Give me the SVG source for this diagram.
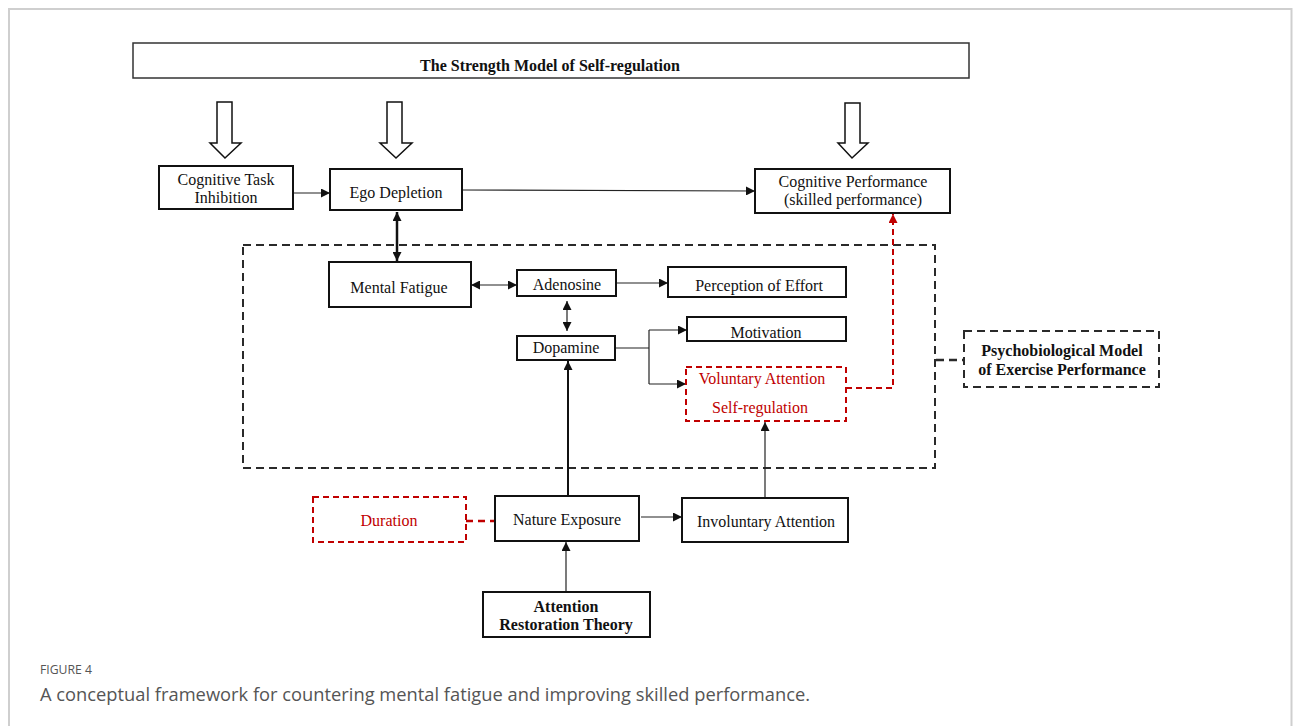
<svg xmlns="http://www.w3.org/2000/svg" width="1293" height="726" viewBox="0 0 1293 726">
<style>
.box{fill:#fff;stroke:#111;stroke-width:2}
.t{font-family:"Liberation Serif","Times New Roman",serif;font-size:16px;fill:#111;text-anchor:middle}
.b{font-weight:bold}
.red{fill:#c00000}
.rbox{fill:#fff;stroke:#c00000;stroke-width:2;stroke-dasharray:6 4}
.conn{fill:none;stroke:#222;stroke-width:1.2}
.blk{fill:#fff;stroke:#111;stroke-width:1.5}
.dash{fill:none;stroke:#2a2a2a;stroke-width:2;stroke-dasharray:8 5}
.cap{font-family:"Open Sans","Liberation Sans",sans-serif;fill:#555}
</style>
<defs>
<marker id="ah" viewBox="0 0 10 10" refX="10" refY="5" markerWidth="9" markerHeight="9" markerUnits="userSpaceOnUse" orient="auto-start-reverse"><path d="M0,0 L10,5 L0,10 z" fill="#111"/></marker>
<marker id="ahr" viewBox="0 0 10 10" refX="10" refY="5" markerWidth="9" markerHeight="9" markerUnits="userSpaceOnUse" orient="auto-start-reverse"><path d="M0,0 L10,5 L0,10 z" fill="#c00000"/></marker>
</defs>
<rect width="1293" height="726" fill="#fff"/>
<path d="M9,726 V9 H1291.5 V726" fill="none" stroke="#cfcfcf" stroke-width="2"/>

<g id="outer-dashed">
<rect x="243" y="245" width="692" height="223" class="dash"/>
</g>

<g id="connectors">
<polygon class="blk" points="217,102 232,102 232,143 241,143 225,158 210,143 217,143"/>
<polygon class="blk" points="387,102 402,102 402,143 412,143 396,158 380,143 387,143"/>
<polygon class="blk" points="845,103 860,103 860,143 868,143 852,158 838,143 845,143"/>
<path class="conn" d="M293,193 H330" marker-end="url(#ah)"/>
<path class="conn" d="M462,190 L755,191" marker-end="url(#ah)"/>
<path d="M397,212 V261" fill="none" stroke="#111" stroke-width="2.5" marker-start="url(#ah)" marker-end="url(#ah)"/>
<path class="conn" d="M471,285 H517" marker-start="url(#ah)" marker-end="url(#ah)"/>
<path class="conn" d="M616,283 H668" marker-end="url(#ah)"/>
<path class="conn" d="M567,301 V331" marker-start="url(#ah)" marker-end="url(#ah)"/>
<path class="conn" d="M615,348 H649"/>
<path class="conn" d="M649,330 V384"/>
<path class="conn" d="M649,330 H687" marker-end="url(#ah)"/>
<path class="conn" d="M649,384 H686" marker-end="url(#ah)"/>
<path d="M846,388 H893 V214" fill="none" stroke="#c00000" stroke-width="2" stroke-dasharray="6 4" marker-end="url(#ahr)"/>
<path d="M568,496 V361" fill="none" stroke="#111" stroke-width="2" marker-end="url(#ah)"/>
<path class="conn" d="M765,498 V422" marker-end="url(#ah)"/>
<path class="conn" d="M641,517 H682" marker-end="url(#ah)"/>
<path class="conn" d="M566,591 V542" marker-end="url(#ah)"/>
<path d="M466,521 H495" fill="none" stroke="#c00000" stroke-width="2.5" stroke-dasharray="7 5"/>
<path d="M936,360 H964" fill="none" stroke="#2a2a2a" stroke-width="2.5" stroke-dasharray="8 5"/>
</g>

<g id="strength-model">
<rect x="133" y="43" width="836" height="35" fill="#fff" stroke="#333" stroke-width="1.5"/>
<text class="t b" x="550" y="71" font-size="15.5">The Strength Model of Self-regulation</text>
</g>
<g id="cognitive-task-inhibition">
<rect class="box" x="159" y="166" width="134" height="43"/>
<text class="t" x="226" y="185">Cognitive Task</text>
<text class="t" x="226" y="203">Inhibition</text>
</g>
<g id="ego-depletion">
<rect class="box" x="330" y="169" width="132" height="41"/>
<text class="t" x="396" y="198">Ego Depletion</text>
</g>
<g id="cognitive-performance">
<rect class="box" x="755" y="169" width="195" height="44"/>
<text class="t" x="853" y="187">Cognitive Performance</text>
<text class="t" x="853" y="205">(skilled performance)</text>
</g>
<g id="mental-fatigue">
<rect class="box" x="329" y="262" width="142" height="45"/>
<text class="t" x="399" y="293">Mental Fatigue</text>
</g>
<g id="adenosine">
<rect class="box" x="517" y="270" width="99" height="26"/>
<text class="t" x="567" y="290">Adenosine</text>
</g>
<g id="perception-of-effort">
<rect class="box" x="668" y="267" width="178" height="30"/>
<text class="t" x="759" y="291">Perception of Effort</text>
</g>
<g id="dopamine">
<rect class="box" x="517" y="336" width="98" height="24"/>
<text class="t" x="566" y="353">Dopamine</text>
</g>
<g id="motivation">
<rect class="box" x="687" y="317" width="159" height="24"/>
<text class="t" x="766" y="338">Motivation</text>
</g>
<g id="voluntary-attention">
<rect class="rbox" x="686" y="367" width="160" height="54"/>
<text class="t red" x="762" y="384">Voluntary Attention</text>
<text class="t red" x="760" y="413">Self-regulation</text>
</g>
<g id="psychobiological-model">
<rect x="964" y="331" width="195" height="56" fill="#fff" stroke="#2a2a2a" stroke-width="2" stroke-dasharray="8 5"/>
<text class="t b" x="1062" y="356">Psychobiological Model</text>
<text class="t b" x="1062" y="375">of Exercise Performance</text>
</g>
<g id="duration">
<rect class="rbox" x="313" y="497" width="153" height="45"/>
<text class="t red" x="389" y="526">Duration</text>
</g>
<g id="nature-exposure">
<rect class="box" x="495" y="496" width="144" height="45"/>
<text class="t" x="567" y="525">Nature Exposure</text>
</g>
<g id="involuntary-attention">
<rect class="box" x="682" y="498" width="166" height="44"/>
<text class="t" x="766" y="527">Involuntary Attention</text>
</g>
<g id="attention-restoration-theory">
<rect class="box" x="483" y="592" width="167" height="45"/>
<text class="t b" x="566" y="612">Attention</text>
<text class="t b" x="566" y="630">Restoration Theory</text>
</g>

<g id="caption">
<text class="cap" x="40" y="674" font-size="13" textLength="52" lengthAdjust="spacingAndGlyphs">FIGURE 4</text>
<text class="cap" x="40" y="701" font-size="18" textLength="770" lengthAdjust="spacingAndGlyphs">A conceptual framework for countering mental fatigue and improving skilled performance.</text>
</g>
</svg>
